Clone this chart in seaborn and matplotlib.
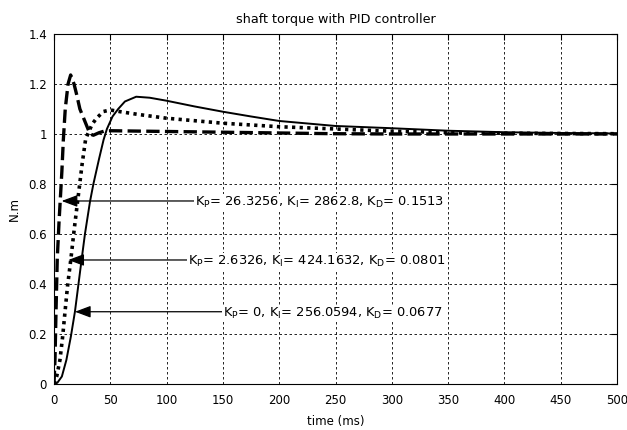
# Shaft torque step response with three PID tunings
import numpy as np
import pandas as pd
import matplotlib
matplotlib.use("Agg")
import matplotlib.pyplot as plt
import seaborn as sns

# time (ms) and torque (N.m)
t_dashed = [0, 0.9, 1.8, 2.9, 4.5, 5.5, 7, 8.3, 10, 12.5, 14.8, 17.8, 20, 23, 27.5,
            32, 35, 40, 45, 50, 100, 150, 200, 250, 300, 400, 500]
v_dashed = [0, 0.1, 0.29, 0.5, 0.65, 0.73, 0.85, 0.976, 1.1, 1.2, 1.236, 1.2, 1.16, 1.1, 1.05,
            1.0, 0.995, 1.005, 1.012, 1.013, 1.01, 1.007, 1.004, 1.001, 1.0, 1.0, 1.0]

t_dotted = [0, 2.4, 5.3, 7.7, 9.8, 12, 15, 18, 21.5, 25, 28, 30, 34, 38, 44, 50, 59, 75,
            100, 150, 200, 250, 300, 350, 400, 450, 500]
v_dotted = [0, 0.03, 0.096, 0.19, 0.289, 0.39, 0.5, 0.62, 0.75, 0.88, 0.976, 1.0, 1.04, 1.064,
            1.09, 1.096, 1.089, 1.078, 1.063, 1.043, 1.029, 1.02, 1.011, 1.006, 1.003, 1.002, 1.001]

t_solid = [0, 3, 7, 11, 15, 18.6, 24.6, 27.5, 32, 35, 40, 44, 47, 52, 57, 63, 73, 85,
           100, 125, 150, 175, 200, 250, 300, 350, 400, 450, 500]
v_solid = [0, 0.005, 0.03, 0.096, 0.19, 0.289, 0.5, 0.6, 0.73, 0.8, 0.9, 0.976, 1.02, 1.07,
           1.1, 1.13, 1.149, 1.145, 1.133, 1.11, 1.089, 1.07, 1.052, 1.032, 1.023, 1.013,
           1.007, 1.004, 1.002]

labels = [r"K$_P$= 26.3256, K$_I$= 2862.8, K$_D$= 0.1513",
          r"K$_P$= 2.6326, K$_I$= 424.1632, K$_D$= 0.0801",
          r"K$_P$= 0, K$_I$= 256.0594, K$_D$= 0.0677"]
arrow_tip_t = [6.8, 12.7, 18.6]
arrow_tip_v = [0.732, 0.496, 0.289]
label_t = [125, 119, 150]

sns.set_style("white")
plt.rcParams["font.family"] = ["DejaVu Sans"]
plt.rcParams["mathtext.default"] = "regular"
plt.rcParams["text.color"] = "black"
plt.rcParams["axes.labelcolor"] = "black"

fig = plt.figure(figsize=(6.27, 4.30), dpi=100)
ax = fig.add_axes([0.0861, 0.107, 0.898, 0.814])

df_dashed = pd.DataFrame({"t": t_dashed, "v": v_dashed})
df_dotted = pd.DataFrame({"t": t_dotted, "v": v_dotted})
df_solid = pd.DataFrame({"t": t_solid, "v": v_solid})

sns.lineplot(data=df_dashed, x="t", y="v", ax=ax, color="black", lw=2.4,
             linestyle=(0, (4, 1.6)), estimator=None)
sns.lineplot(data=df_dotted, x="t", y="v", ax=ax, color="black", lw=2.6,
             linestyle=(0, (0.9, 1.2)), estimator=None)
sns.lineplot(data=df_solid, x="t", y="v", ax=ax, color="black", lw=1.4,
             linestyle="-", estimator=None)

# annotations with arrows pointing at each curve
for lab, tt, tv, lt in zip(labels, arrow_tip_t, arrow_tip_v, label_t):
    ax.annotate("", xy=(tt, tv), xytext=(lt, tv),
                arrowprops=dict(arrowstyle="-|>,head_length=0.8,head_width=0.3",
                                color="black", lw=0.9, mutation_scale=12,
                                shrinkA=0, shrinkB=0))
    ax.text(lt, tv - 0.006, lab, ha="left", va="center", fontsize=9.4,
            bbox=dict(facecolor="white", edgecolor="none", pad=0.5))

ax.set_xlim(0, 500)
ax.set_ylim(0, 1.4)
ax.set_xticks(np.arange(0, 501, 50))
ax.set_yticks([0, 0.2, 0.4, 0.6, 0.8, 1.0, 1.2, 1.4])
ax.set_yticklabels(["0", "0.2", "0.4", "0.6", "0.8", "1", "1.2", "1.4"])
ax.tick_params(direction="in", top=True, right=True, length=4, width=0.8,
               labelsize=8.5, color="black", labelcolor="black")
ax.tick_params(axis="x", pad=7)
ax.tick_params(axis="y", pad=5)
ax.grid(True, color="black", linestyle=(0, (3, 3)), lw=0.6)
for s in ax.spines.values():
    s.set_color("black")
    s.set_linewidth(0.8)

ax.set_title("shaft torque with PID controller", fontsize=9.2, pad=8)
ax.set_xlabel("time (ms)", fontsize=8.5, labelpad=6)
ax.set_ylabel("N.m", fontsize=8.5, labelpad=5)

fig.savefig("out.png", dpi=100)
